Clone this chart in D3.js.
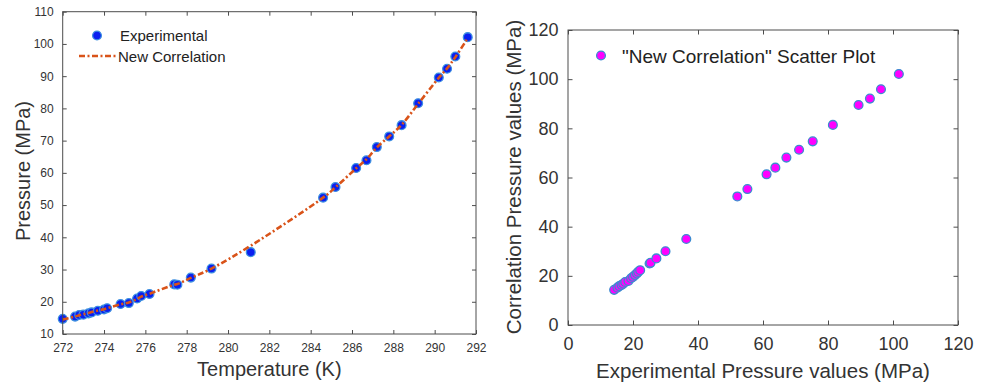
<!DOCTYPE html>
<html>
<head>
<meta charset="utf-8">
<script src="https://cdn.jsdelivr.net/npm/d3@7"></script>
<style>
  body { margin: 0; background: #fff; }
  svg { display: block; font-family: "Liberation Sans", Arial, sans-serif; }
  .tick text { fill: #333; }
</style>
</head>
<body>
<svg id="chart" width="988" height="385"></svg>
<script>
// left panel: experimental points
const temps = [272.0, 272.6, 272.8, 273.0, 273.25, 273.4, 273.7, 274.0, 274.15, 274.8, 275.2,
               275.6, 275.8, 276.2, 277.4, 277.55, 278.2, 279.2, 281.1, 284.6, 285.2, 286.2,
               286.7, 287.2, 287.8, 288.4, 289.2, 290.2, 290.6, 291.0, 291.6];
const expP  = [14.7, 15.4, 15.9, 16.0, 16.4, 16.7, 17.2, 17.6, 18.0, 19.3, 19.6,
               21.0, 21.8, 22.4, 25.4, 25.3, 27.5, 30.3, 35.4, 52.3, 55.6, 61.5,
               63.9, 68.0, 71.3, 74.8, 81.6, 89.6, 92.3, 96.1, 102.1];
// correlation curve at the same temperatures
const corrP = [14.5, 15.4, 15.8, 16.1, 16.5, 16.8, 17.3, 17.7, 18.0, 19.2, 19.8,
               20.9, 21.6, 22.5, 25.3, 25.5, 27.4, 30.3, 37.4, 52.3, 55.5, 61.4,
               64.2, 67.9, 71.3, 74.9, 81.4, 89.5, 92.4, 95.9, 101.8];

// right panel: scatter of experimental vs correlation values
const scatterExp  = [14.2, 15.2, 15.8, 16.5, 17.0, 17.6, 18.6, 19.4, 20.0, 20.6, 21.2, 21.6, 22.2,
                     25.1, 25.4, 27.2, 30.0, 36.4, 52.1, 55.2, 61.1, 63.8, 67.2, 71.1, 75.3,
                     81.5, 89.4, 92.9, 96.3, 101.8];
const scatterCorr = [14.3, 15.2, 15.8, 16.3, 16.8, 17.5, 17.9, 19.0, 19.6, 20.3, 21.0, 21.6, 22.3,
                     25.0, 25.3, 27.1, 30.0, 35.0, 52.3, 55.3, 61.3, 64.0, 68.1, 71.3, 74.7,
                     81.4, 89.5, 92.1, 95.9, 102.1];

const tTicks = d3.range(272, 293, 2);
const pTicks = d3.range(10, 111, 10);
const sTicks = d3.range(0, 121, 20);

const svg = d3.select("#chart");
const axisColor = "#4d4d4d";
const dash = "6,2.5,2,2.5";

function box(g, x, y) {
  const [x0, x1] = x.range();
  const [y0, y1] = y.range();
  g.append("rect")
    .attr("x", x0).attr("y", y1)
    .attr("width", x1 - x0).attr("height", y0 - y1)
    .attr("fill", "none").attr("stroke", axisColor).attr("stroke-width", 1);
}

function axes(g, x, y, xt, yt, fs, tl) {
  const [x0, x1] = x.range();
  const [y0, y1] = y.range();
  const bottom = g.append("g").attr("transform", `translate(0,${y0})`)
    .call(d3.axisBottom(x).tickValues(xt).tickSize(-tl).tickPadding(fs * 0.45 + tl));
  const left = g.append("g").attr("transform", `translate(${x0},0)`)
    .call(d3.axisLeft(y).tickValues(yt).tickSize(-tl).tickPadding(5 + tl));
  const top = g.append("g").attr("transform", `translate(0,${y1})`)
    .call(d3.axisTop(x).tickValues(xt).tickSize(-tl).tickFormat(""));
  const right = g.append("g").attr("transform", `translate(${x1},0)`)
    .call(d3.axisRight(y).tickValues(yt).tickSize(-tl).tickFormat(""));
  [bottom, left, top, right].forEach(a => {
    a.select(".domain").remove();
    a.selectAll("line").attr("stroke", axisColor);
    a.selectAll("text").attr("font-size", fs).attr("fill", "#333")
      .attr("font-family", "Liberation Sans, Arial, sans-serif");
  });
}

// ---------- left chart
const xL = d3.scaleLinear().domain([272, 292]).range([62.7, 476]);
const yL = d3.scaleLinear().domain([10, 110]).range([334, 11.7]);
const gL = svg.append("g");

axes(gL, xL, yL, tTicks, pTicks, 12, 4);

const line = d3.line()
  .x((d, i) => xL(temps[i]))
  .y(d => yL(d))
  .curve(d3.curveCatmullRom);

gL.selectAll("circle.exp")
  .data(expP)
  .join("circle")
  .attr("class", "exp")
  .attr("cx", (d, i) => xL(temps[i]))
  .attr("cy", d => yL(d))
  .attr("r", 4.4)
  .attr("fill", "#0a1ff0")
  .attr("stroke", "#3d8fe0")
  .attr("stroke-width", 1.3);

// the correlation line crosses over the markers
gL.append("path")
  .datum(corrP)
  .attr("d", line)
  .attr("fill", "none")
  .attr("stroke", "#D95319")
  .attr("stroke-width", 2.6)
  .attr("stroke-dasharray", dash);

box(gL, xL, yL);

// legend
gL.append("circle").attr("cx", 97).attr("cy", 35.5).attr("r", 4.4)
  .attr("fill", "#0a1ff0").attr("stroke", "#3d8fe0").attr("stroke-width", 1.3);
gL.append("text").attr("x", 120).attr("y", 41).attr("font-size", 15).attr("fill", "#222")
  .text("Experimental");
gL.append("line").attr("x1", 79).attr("x2", 117).attr("y1", 56).attr("y2", 56)
  .attr("stroke", "#D95319").attr("stroke-width", 2.6)
  .attr("stroke-dasharray", dash);
gL.append("text").attr("x", 118).attr("y", 61.5).attr("font-size", 15).attr("fill", "#222")
  .text("New Correlation");

gL.append("text")
  .attr("x", (xL.range()[0] + xL.range()[1]) / 2).attr("y", 376)
  .attr("text-anchor", "middle").attr("font-size", 20).attr("fill", "#333")
  .text("Temperature (K)");
gL.append("text")
  .attr("transform", "translate(30,171) rotate(-90)")
  .attr("text-anchor", "middle").attr("font-size", 20).attr("fill", "#333")
  .text("Pressure (MPa)");

// ---------- right chart
const xR = d3.scaleLinear().domain([0, 120]).range([568, 958]);
const yR = d3.scaleLinear().domain([0, 120]).range([325, 30]);
const gR = svg.append("g");

axes(gR, xR, yR, sTicks, sTicks, 18, 4.5);

gR.selectAll("circle.sc")
  .data(scatterExp)
  .join("circle")
  .attr("class", "sc")
  .attr("cx", d => xR(d))
  .attr("cy", (d, i) => yR(scatterCorr[i]))
  .attr("r", 4.4)
  .attr("fill", "#ff00ff")
  .attr("stroke", "#3b8bd0")
  .attr("stroke-width", 1.3);

box(gR, xR, yR);

gR.append("circle").attr("cx", 601).attr("cy", 55.5).attr("r", 4.4)
  .attr("fill", "#ff00ff").attr("stroke", "#3b8bd0").attr("stroke-width", 1.3);
gR.append("text").attr("x", 622).attr("y", 62.5).attr("font-size", 19).attr("fill", "#222")
  .text("\"New Correlation\" Scatter Plot");

gR.append("text")
  .attr("x", (xR.range()[0] + xR.range()[1]) / 2).attr("y", 378)
  .attr("text-anchor", "middle").attr("font-size", 20.5).attr("fill", "#333")
  .text("Experimental Pressure values (MPa)");
gR.append("text")
  .attr("transform", "translate(521,177) rotate(-90)")
  .attr("text-anchor", "middle").attr("font-size", 20.5).attr("fill", "#333")
  .text("Correlation Pressure values (MPa)");
</script>
</body>
</html>
